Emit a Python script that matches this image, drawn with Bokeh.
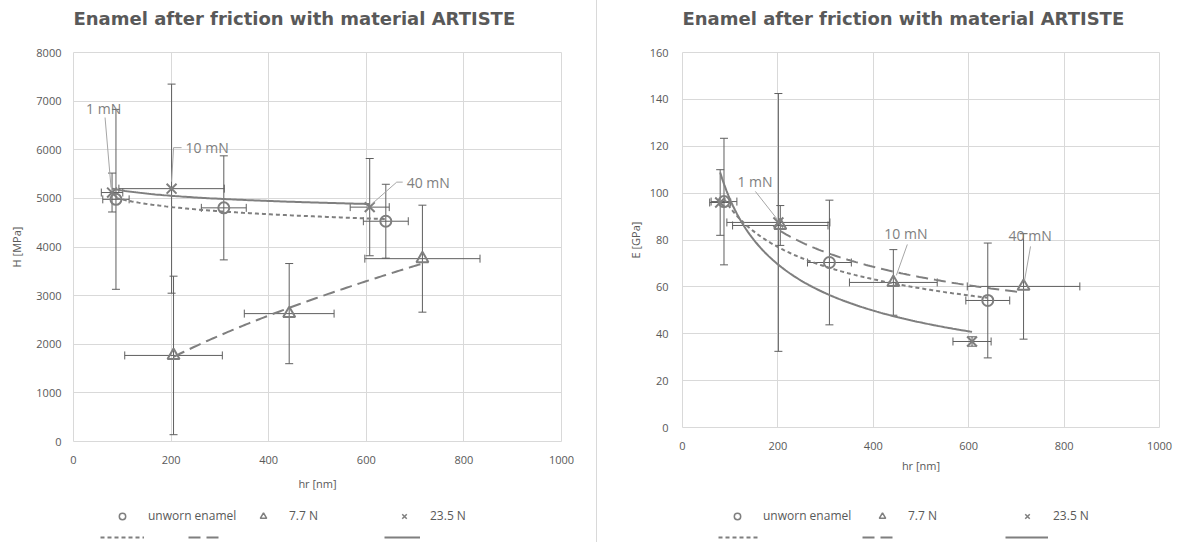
import numpy as np
from bokeh.plotting import figure
from bokeh.models import (ColumnDataSource, Whisker, TeeHead, Legend, LegendItem,
                          Range1d, FixedTicker, Label, Div)
from bokeh.layouts import row, column
from bokeh.embed import file_html
from bokeh.resources import INLINE
from bokeh.core.properties import value

# ---------------- data ----------------
series_names = ["unworn enamel", "7.7 N", "23.5 N"]
x_ticks = [0, 200, 400, 600, 800, 1000]
h_ticks = [0, 1000, 2000, 3000, 4000, 5000, 6000, 7000, 8000]
e_ticks = [0, 20, 40, 60, 80, 100, 120, 140, 160]
load_labels = ["1 mN", "10 mN", "40 mN"]

# contact depth hr [nm] and its error
hr_unworn = [87, 308, 640]
hr_unworn_err = [27, 46, 46]
hr_77 = [205, 442, 715]
hr_77_err = [100, 92, 118]
hr_235 = [79, 201, 607]
hr_235_err = [22, 108, 40]

# hardness H [MPa]
H_unworn = [4980, 4805, 4530]
H_unworn_err = [1850, 1070, 760]
H_77 = [1770, 2630, 3760]
H_77_err = [1630, 1030, 1100]
H_235 = [5120, 5200, 4820]
H_235_err = [400, 2150, 1000]

# modulus E [GPa]
E_unworn = [96.4, 70.4, 54.2]
E_unworn_err = [27.0, 26.6, 24.5]
E_77 = [86.2, 61.9, 60.2]
E_77_err = [8.5, 14.0, 22.5]
E_235 = [96.0, 87.5, 36.7]
E_235_err = [14.0, 55.0, 2.0]

# ---------------- style ----------------
MARK = "#7f7f7f"
BAR = "#5f5f5f"
TXT = "#595959"
GRID = "#d9d9d9"
FONT = "Open Sans"
TITLE = "Enamel after friction with material ARTISTE"
MARKERS = ["circle", "triangle", "x"]
SIZES = [11, 12, 14]
DASHES = ["4 3", "12 6", "solid"]


def power_fit(x, y):
    lx, ly = np.log(np.asarray(x, float)), np.log(np.asarray(y, float))
    b, a = np.polyfit(lx, ly, 1)
    xs = np.linspace(min(x), max(x), 120)
    return xs, np.exp(a) * xs ** b


def strip(width, height):
    f = figure(width=width, height=height, output_backend="svg", toolbar_location=None,
               x_range=Range1d(0, 1), y_range=Range1d(0, 1), min_border=0,
               x_axis_location=None, y_axis_location=None,
               outline_line_color=None, background_fill_color="white",
               border_fill_color="white", margin=0)
    f.grid.visible = False
    return f


def make_title(width, height, tx, ty):
    f = strip(width, height)
    f.add_layout(Label(x=tx, y=ty, x_units="screen", y_units="screen", text=TITLE,
                       text_font="DejaVu Sans", text_font_size="18px",
                       text_font_style="bold", text_color=TXT,
                       text_align="left", text_baseline="middle"))
    return f


def make_chart(ydata, yerrs, yticks, ylabel, width, height, bl, br, bt, bb,
               ytick_standoff, ylabel_standoff, xlabel_standoff, label_specs):
    ymax = yticks[-1]
    p = figure(width=width, height=height, output_backend="svg", toolbar_location=None,
               x_range=Range1d(0, 1000), y_range=Range1d(0, ymax),
               min_border_left=bl, min_border_right=br, min_border_top=bt,
               min_border_bottom=bb, background_fill_color="white",
               border_fill_color="white", outline_line_color=GRID, margin=0)
    fw = width - bl - br
    fh = height - bt - bb
    sx = 1000.0 / fw
    sy = ymax / fh

    p.xaxis.ticker = FixedTicker(ticks=x_ticks)
    p.yaxis.ticker = FixedTicker(ticks=yticks)
    for ax in (p.xaxis, p.yaxis):
        ax.axis_line_color = None
        ax.major_tick_line_color = None
        ax.minor_tick_line_color = None
        ax.major_tick_out = 0
        ax.major_tick_in = 0
        ax.major_label_text_font = FONT
        ax.major_label_text_font_size = "11px"
        ax.major_label_text_color = TXT
        ax.axis_label_text_font = FONT
        ax.axis_label_text_font_size = "11px"
        ax.axis_label_text_font_style = "normal"
        ax.axis_label_text_color = TXT
    p.xaxis.axis_label = "hr [nm]"
    p.yaxis.axis_label = ylabel
    p.xaxis.major_label_standoff = 14
    p.xaxis.axis_label_standoff = xlabel_standoff
    p.yaxis.major_label_standoff = ytick_standoff
    p.yaxis.axis_label_standoff = ylabel_standoff
    p.grid.grid_line_color = GRID
    p.grid.grid_line_width = 1

    xs_all = [hr_unworn, hr_77, hr_235]
    xe_all = [hr_unworn_err, hr_77_err, hr_235_err]

    # trend lines (power regression of each series)
    for xv, yv, d in zip(xs_all, ydata, DASHES):
        fx, fy = power_fit(xv, yv)
        p.line(fx, fy, line_color=MARK, line_width=2, line_dash=d)

    # error bars + markers
    for xv, xe, yv, ye, m, s in zip(xs_all, xe_all, ydata, yerrs, MARKERS, SIZES):
        src = ColumnDataSource(dict(
            x=xv, y=yv,
            yu=[a + b for a, b in zip(yv, ye)], yl=[a - b for a, b in zip(yv, ye)],
            xu=[a + b for a, b in zip(xv, xe)], xl=[a - b for a, b in zip(xv, xe)]))
        for dim, base, up, lo in (("height", "x", "yu", "yl"), ("width", "y", "xu", "xl")):
            w = Whisker(source=src, base=base, upper=up, lower=lo, dimension=dim,
                        line_color=BAR, line_width=1,
                        upper_head=TeeHead(size=8, line_color=BAR, line_width=1),
                        lower_head=TeeHead(size=8, line_color=BAR, line_width=1))
            p.add_layout(w)
        p.scatter("x", "y", source=src, marker=m, size=s, fill_color=None,
                  line_color=MARK, line_width=2)

    # data labels with leader lines (offsets in screen pixels from the point)
    for (txt, si, idx, tdx, tdy, leader) in label_specs:
        px = xs_all[si][idx]
        py = ydata[si][idx]
        lx = [px + dx * sx for dx, dy in leader]
        ly = [py - dy * sy for dx, dy in leader]
        p.line(lx, ly, line_color="#a6a6a6", line_width=1)
        p.text(x=[px + tdx * sx], y=[py - tdy * sy], text=[txt],
               text_font=value(FONT), text_font_size="14px", text_color="#808080",
               text_align="left", text_baseline="middle")
    return p


def make_legend_fig(width, height, leg_x, leg_y, leg_lw, row2, row2_y):
    f = strip(width, height)
    # legend-only renderers: one point placed outside the visible range
    rs = [f.scatter(x=[-5], y=[-5], marker=m, size=8, fill_color=None, line_color=MARK,
                    line_width=1.5) for m in MARKERS]
    lg = Legend(items=[LegendItem(label=n, renderers=[r]) for n, r in zip(series_names, rs)],
                orientation="horizontal", location=(leg_x, leg_y),
                padding=0, margin=0, spacing=0, glyph_width=16, glyph_height=16,
                label_standoff=18, label_width=leg_lw, label_height=16,
                label_text_font=FONT, label_text_font_size="12px", label_text_color=TXT,
                border_line_color=None, background_fill_alpha=0)
    f.add_layout(lg)
    for (x0, gw), d in zip(row2, DASHES):
        r = f.line(x=[-5, -4], y=[-5, -5], line_color=MARK, line_width=2, line_dash=d)
        l2 = Legend(items=[LegendItem(label=" ", renderers=[r])], location=(x0, row2_y),
                    padding=0, margin=0, spacing=0, glyph_width=gw, glyph_height=6,
                    label_standoff=0, label_width=0, label_height=6,
                    label_text_font_size="1px", border_line_color=None,
                    background_fill_alpha=0)
        f.add_layout(l2)
    return f


# page layout: title strip 0..35, chart 35..494, legend strip 494..542
# (strip frames are aligned with the chart frames, so strip x offsets are frame-relative)
TH, CH, LH = 35, 459, 48

t1 = make_title(596, TH, 0, 17)
p1 = make_chart([H_unworn, H_77, H_235], [H_unworn_err, H_77_err, H_235_err], h_ticks,
                "H [MPa]", 596, CH, 73, 35, 17, 53, 12, 9, 9,
                [("1 mN", 2, 0, -26, -84, [(-7, -75), (-1, -5)]),
                 ("10 mN", 2, 1, 14, -41, [(10, -41), (2, -41), (0, -7)]),
                 ("40 mN", 2, 2, 37, -25, [(33, -25), (27, -25), (2, -3)])])
l1 = make_legend_fig(596, LH, 41, 18, 107, [(27, 44), (115, 34), (311, 36)], 2)

t2 = make_title(587, TH, 0, 17)
p2 = make_chart([E_unworn, E_77, E_235], [E_unworn_err, E_77_err, E_235_err], e_ticks,
                "E [GPa]", 587, CH, 85, 25, 17, 67, 14, 4, 5,
                [("1 mN", 2, 1, -41, -41, [(-23, -31), (-1, -3)]),
                 ("10 mN", 1, 1, -9, -49, [(14, -38), (3, -7)]),
                 ("40 mN", 1, 2, -15, -51, [(7, -40), (1, -6)])])
l2 = make_legend_fig(587, LH, 47, 18, 111, [(36, 42), (180, 36), (323, 43)], 2)

sep = Div(width=1, height=TH + CH + LH, margin=0, styles={"background-color": GRID})

layout = row(column(t1, p1, l1, spacing=0, margin=0), sep,
             column(t2, p2, l2, spacing=0, margin=0), spacing=0, margin=0)
html = file_html(layout, INLINE)
html = html.replace("</head>", "<style>html, body { overflow: hidden; }</style></head>", 1)
open("out.html", "w").write(html)
